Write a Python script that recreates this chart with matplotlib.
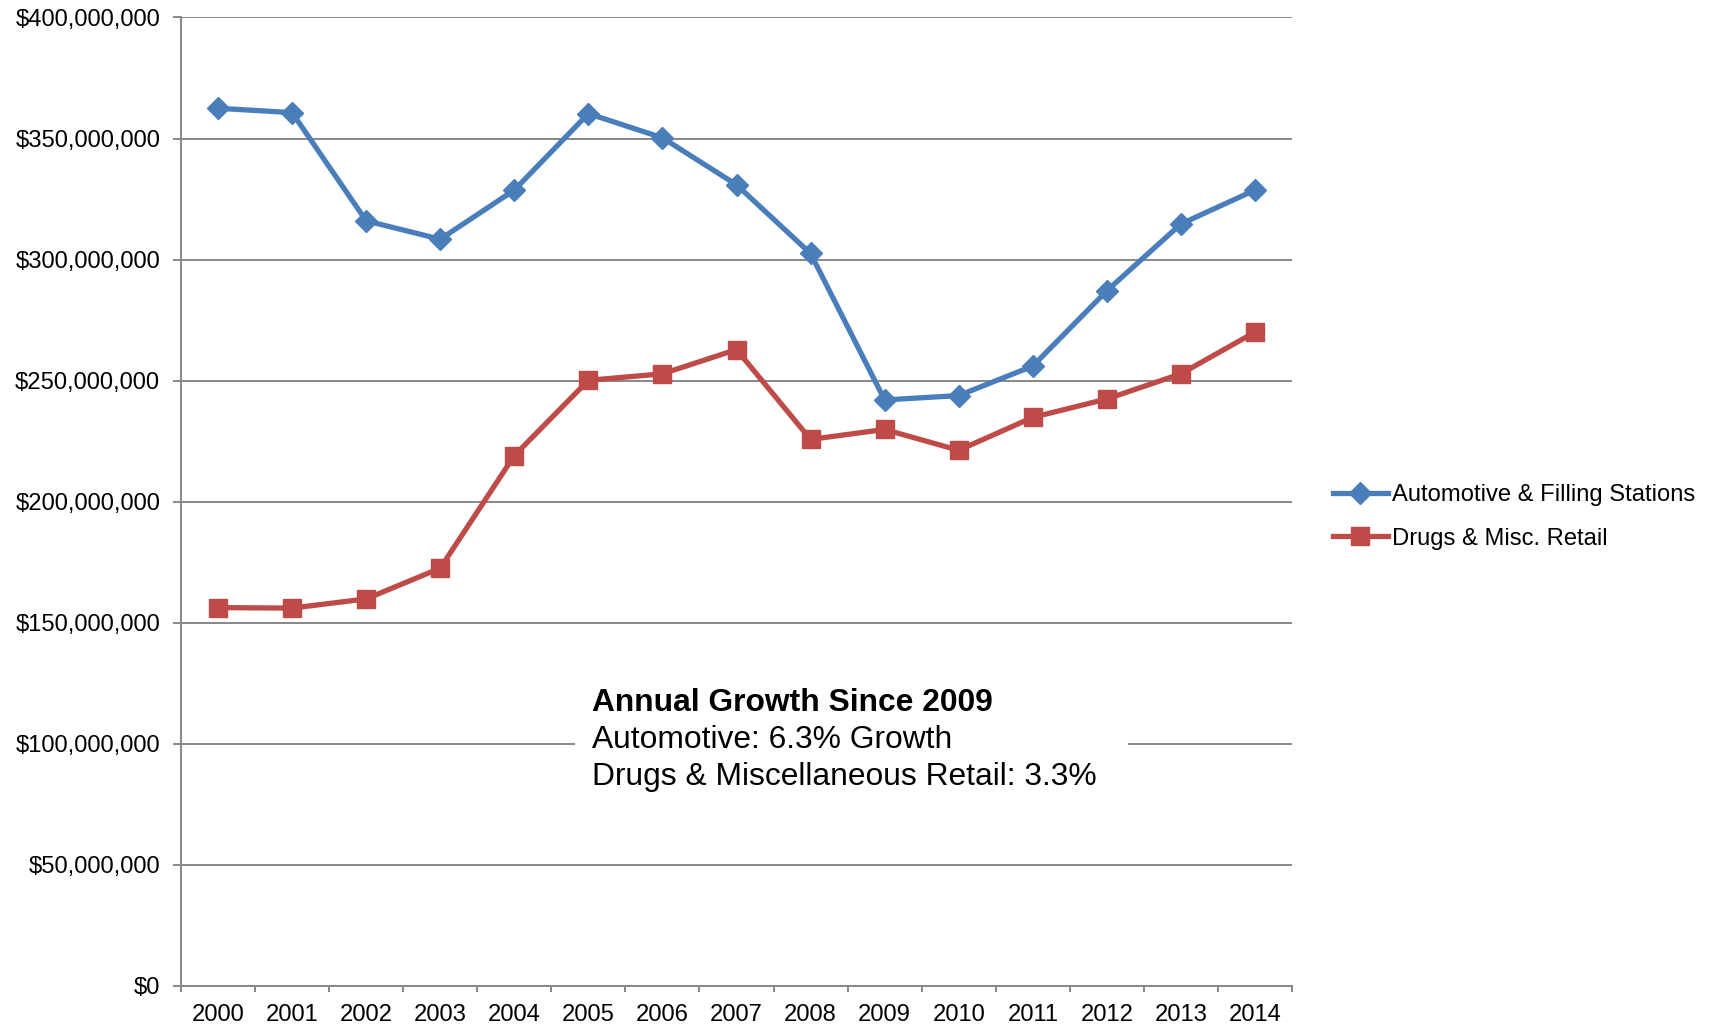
import matplotlib.pyplot as plt
from matplotlib.patches import Rectangle
from matplotlib.ticker import FuncFormatter, FixedLocator

plt.rcParams['font.family'] = ['Liberation Sans', 'DejaVu Sans']

years = ["2000", "2001", "2002", "2003", "2004", "2005", "2006", "2007",
         "2008", "2009", "2010", "2011", "2012", "2013", "2014"]
automotive = [362.5, 360.7, 316.0, 308.4, 328.7, 360.3, 350.3, 330.9,
              302.5, 242.0, 243.8, 256.0, 287.1, 314.7, 328.7]
drugs = [156.2, 156.0, 159.8, 172.5, 219.0, 250.1, 252.8, 262.8,
         225.7, 229.8, 221.2, 234.8, 242.4, 252.8, 270.0]
automotive = [v * 1e6 for v in automotive]
drugs = [v * 1e6 for v in drugs]

blue = "#4A7EBB"
red = "#BE4B48"
grid_color = "#878787"
fs = 17.1

fig = plt.figure(figsize=(17.11, 10.28), dpi=100)
ax = fig.add_axes([181 / 1711, 1 - 985.7 / 1028, (1292 - 181) / 1711, (985.7 - 17.5) / 1028])

x = list(range(len(years)))
ax.plot(x, automotive, color=blue, lw=3.8, marker="D", markersize=11.5,
        label="Automotive & Filling Stations", zorder=3)
ax.plot(x, drugs, color=red, lw=3.8, marker="s", markersize=13,
        label="Drugs & Misc. Retail", zorder=3)

ax.set_xlim(-0.5, len(years) - 0.5)
ax.set_ylim(0, 400e6)
ax.set_yticks([i * 50e6 for i in range(9)])
ax.yaxis.set_major_formatter(FuncFormatter(lambda v, p: f"${v:,.0f}"))
ax.set_xticks(x)
ax.set_xticklabels(years)
ax.xaxis.set_minor_locator(FixedLocator([i - 0.5 for i in range(len(years) + 1)]))

ax.grid(axis="y", color=grid_color, lw=1.4, zorder=0)
ax.set_axisbelow(True)
for s in ["top", "right"]:
    ax.spines[s].set_visible(False)
for s in ["left", "bottom"]:
    ax.spines[s].set_color(grid_color)
    ax.spines[s].set_linewidth(1.4)

ax.tick_params(axis="y", which="major", length=6, width=1.4, color=grid_color,
               labelsize=fs, pad=9)
ax.tick_params(axis="x", which="major", length=0, labelsize=fs, pad=13)
ax.tick_params(axis="x", which="minor", length=4.5, width=1.4, color=grid_color)

# white box behind the note
ax.add_patch(Rectangle((4.82, 80e6), 12.28 - 4.82, 40e6, facecolor="white",
                       edgecolor="none", zorder=1))
ax.text(5.05, 116.9e6, "Annual Growth Since 2009", fontsize=22.9,
        fontweight="bold", ha="left", va="center", zorder=4)
ax.text(5.05, 101.6e6, "Automotive: 6.3% Growth", fontsize=22.9,
        ha="left", va="center", zorder=4)
ax.text(5.05, 86.3e6, "Drugs & Miscellaneous Retail: 3.3%", fontsize=22.9,
        ha="left", va="center", zorder=4)

fig.legend(loc="center left", bbox_to_anchor=(1333 / 1711, 1 - 517 / 1028),
           frameon=False, fontsize=fs, handlelength=2.3, handletextpad=0.2,
           borderpad=0, borderaxespad=0, labelspacing=0.9)

fig.savefig("out.png", dpi=100)
plt.close(fig)
